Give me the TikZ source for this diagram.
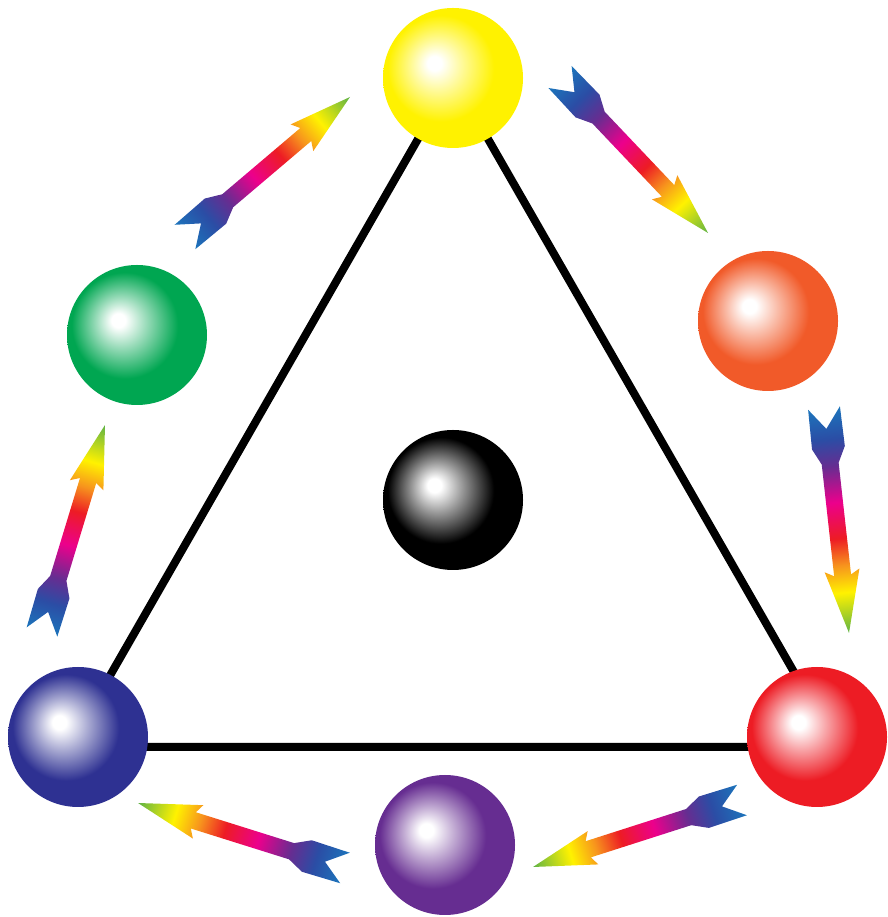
\documentclass[tikz,border=0pt]{standalone}
\usetikzlibrary{calc}
\definecolor{cyellow}{HTML}{FFF200}
\definecolor{corange}{HTML}{F15A29}
\definecolor{cred}{HTML}{ED1C24}
\definecolor{cpurple}{HTML}{662D91}
\definecolor{cblue}{HTML}{2E3192}
\definecolor{cgreen}{HTML}{00A651}
\definecolor{ra1}{HTML}{1C75BC}
\definecolor{ra2}{HTML}{2B4DA5}
\definecolor{ra3}{HTML}{662D91}
\definecolor{ra4}{HTML}{EC008C}
\definecolor{ra5}{HTML}{ED1C24}
\definecolor{ra6}{HTML}{F7941D}
\definecolor{ra7}{HTML}{FFF200}
\definecolor{ra8}{HTML}{5FB346}
\colorlet{ballc}{black}
\pgfdeclareradialshading[ballc]{sphere}{\pgfpoint{-7bp}{5.5bp}}{color(0bp)=(white); color(2.5bp)=(white); color(9bp)=(ballc!40!white); color(19bp)=(ballc); color(50bp)=(ballc)}
\pgfdeclarehorizontalshading{rainbow}{100bp}{color(0bp)=(ra1); color(25bp)=(ra1); color(32bp)=(ra2); color(38bp)=(ra3); color(46bp)=(ra4); color(54bp)=(ra5); color(60bp)=(ra6); color(66bp)=(ra7); color(75bp)=(ra8); color(100bp)=(ra8)}
\newcommand\rainarrow[4]{%
  \pgfmathsetmacro\rAng{atan2(#4-#2,#3-#1)}%
  \pgfmathsetmacro\rLen{veclen(#3-#1,#4-#2)}%
  \begin{scope}[transform canvas={shift={(#1,#2)},rotate=\rAng}]
    \shade[shading=rainbow] (21,0) -- (0,16) -- (40,16.5) -- (56,8.5) -- (\rLen-58,8.5) -- (\rLen-63,17.5) -- (\rLen,0) -- (\rLen-63,-17.5) -- (\rLen-58,-8.5) -- (56,-8.5) -- (40,-16.5) -- (0,-16) -- cycle;
  \end{scope}}
\tikzset{
  ballnode/.style={circle, inner sep=0pt, minimum size=140pt, /utils/exec={\colorlet{ballc}{#1}}, shade, shading=sphere},
  edgeline/.style={line width=8pt, black}
}
\begin{document}
\begin{tikzpicture}[x=1pt,y=1pt]
\useasboundingbox (0,0) rectangle (887,917);
% triangle
\coordinate (vt) at (453,839);
\coordinate (vl) at (69,170);
\coordinate (vr) at (837,170);
\draw[edgeline] (vt) -- (vr) -- (vl) -- cycle;
% balls
\node[ballnode=cyellow] (yellow) at (453,839) {};
\node[ballnode=corange] (orange) at (768,596) {};
\node[ballnode=cred] (red) at (817,180) {};
\node[ballnode=cpurple] (purple) at (445,72) {};
\node[ballnode=cblue] (blue) at (78,180) {};
\node[ballnode=cgreen] (green) at (137,582) {};
\node[ballnode=black] (center) at (453,417) {};
% arrows
\rainarrow{185}{680}{350}{820}
\rainarrow{560}{840}{708}{684}
\rainarrow{824}{509}{849}{284}
\rainarrow{742}{117}{533}{50}
\rainarrow{345}{49}{138}{114}
\rainarrow{42}{285}{105}{492}
\end{tikzpicture}
\end{document}
